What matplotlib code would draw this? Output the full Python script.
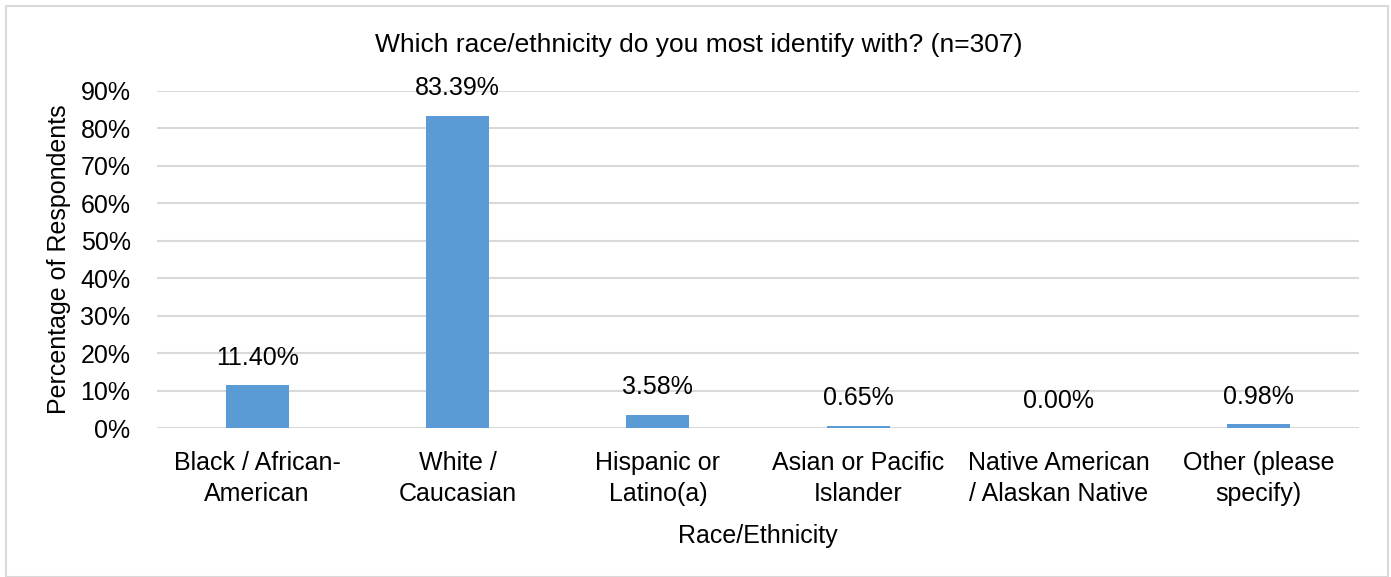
import matplotlib
matplotlib.use("Agg")
import matplotlib.pyplot as plt
from matplotlib.patches import Rectangle

categories = ["Black / African-\nAmerican", "White /\nCaucasian", "Hispanic or\nLatino(a)",
              "Asian or Pacific\nIslander", "Native American\n/ Alaskan Native", "Other (please\nspecify)"]
values = [11.40, 83.39, 3.58, 0.65, 0.00, 0.98]
yticks = [0, 10, 20, 30, 40, 50, 60, 70, 80, 90]

plt.rcParams['font.family'] = ['Liberation Sans', 'DejaVu Sans']
FS = 18
W, H = 1391, 577
fig = plt.figure(figsize=(W/100, H/100), dpi=100)
ax = fig.add_axes([157/W, 1-428/H, (1359-157)/W, (428-91)/H])

x = list(range(len(categories)))
ax.bar(x, values, width=0.315, color='#5B9BD5', zorder=3)
for xi, v in zip(x, values):
    ax.text(xi, v + 7.3, f"{v:.2f}%", ha='center', va='center', fontsize=FS, color='#000000')

ax.set_xlim(-0.5, len(categories) - 0.5)
ax.set_ylim(0, 90)
ax.set_yticks(yticks)
ax.set_yticklabels([f"{t}%" for t in yticks], fontsize=FS)
ax.set_xticks(x)
ax.set_xticklabels(categories, fontsize=FS, linespacing=1.38)
ax.tick_params(axis='both', length=0, colors='#000000')
ax.tick_params(axis='x', pad=16.5)
ax.tick_params(axis='y', pad=19)
ax.yaxis.grid(True, color='#D9D9D9', linewidth=1.5, zorder=0)
for s in ax.spines.values():
    s.set_visible(False)
ax.set_ylabel("Percentage of Respondents", fontsize=FS, labelpad=7)
ax.set_xlabel("Race/Ethnicity", fontsize=FS, labelpad=13)
fig.text(0.5 * (367 + 1030) / W, 1 - 45/H, "Which race/ethnicity do you most identify with? (n=307)",
         ha='center', va='center', fontsize=FS + 1)

fig.patches.append(Rectangle((6/W, 0), (1388-6)/W, (H-6)/H, transform=fig.transFigure,
                             fill=False, edgecolor='#D9D9D9', linewidth=1.5))
fig.savefig("out.png", dpi=100)
